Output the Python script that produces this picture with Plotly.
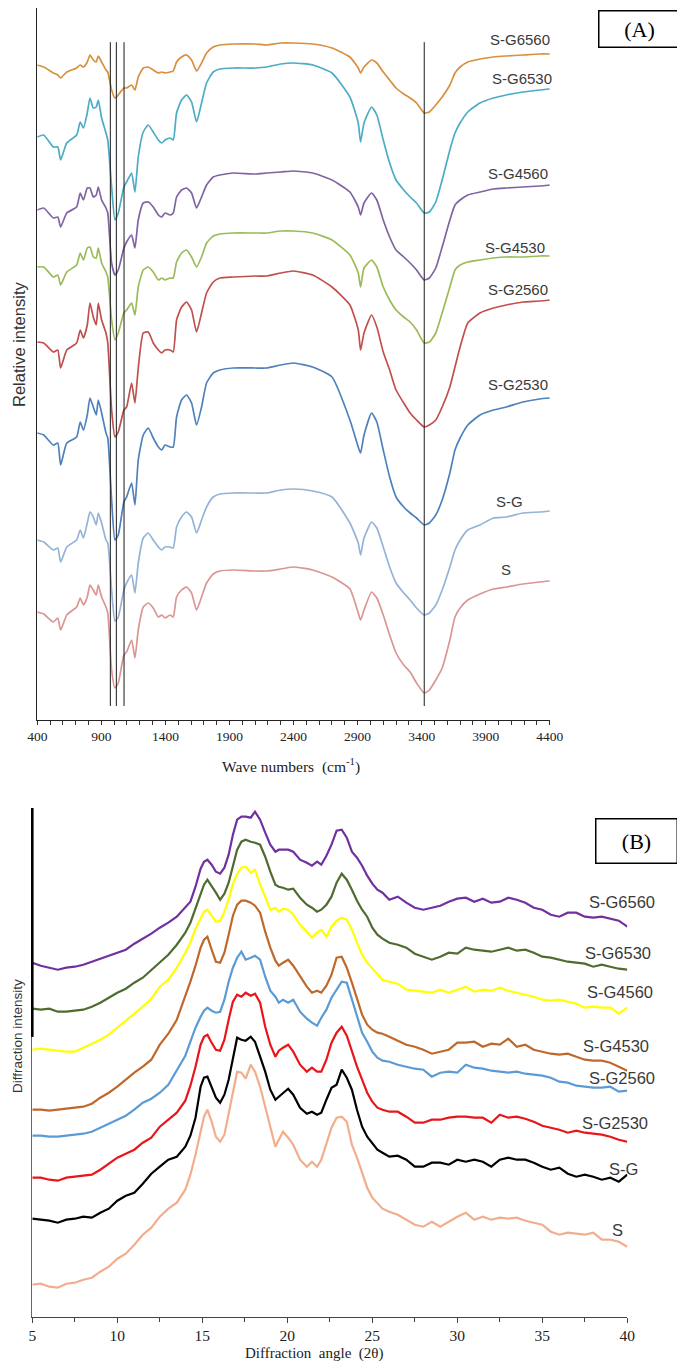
import plotly.graph_objects as go

# The page body has an 8px default margin, so the figure is drawn 8px in from the window corner.
OFF = 8
W, H = 685 - OFF, 1366 - OFF

# ---------------- Panel A: FTIR spectra (relative intensity, arbitrary units) ----------------
wavenumber = [400, 450, 525, 560, 582, 630, 707, 735, 760, 790, 811, 837, 860, 876, 902,
              936, 950, 980, 1006, 1032, 1076, 1097, 1136, 1162, 1188, 1227, 1266, 1305, 1345, 1371,
              1397, 1436, 1461, 1487, 1526, 1565, 1604, 1643, 1682, 1721, 1773, 1825, 1930, 2100, 2190,
              2300, 2400, 2550, 2700, 2840, 2905, 2923, 2950, 3009, 3050, 3100, 3150, 3200, 3260, 3310,
              3360, 3420, 3460, 3510, 3560, 3620, 3660, 3700, 3760, 3855, 3960, 4060, 4190, 4320, 4400]

ftir_SG6560 = [655, 653, 647, 645, 642, 648, 652, 655, 653, 658, 665, 660, 658, 664, 658,
               650, 648, 630, 622, 625, 632, 632, 635, 630, 643, 652, 653, 650, 647, 648,
               647, 648, 649, 658, 663, 665, 660, 649, 657, 667, 673, 675, 676, 676, 675,
               677, 677, 676, 672, 663, 652, 647, 653, 660, 657, 648, 640, 632, 626, 622,
               617, 607, 608, 615, 623, 635, 647, 653, 658, 661, 663, 664, 665, 666, 666]
ftir_SG6530 = [583, 585, 573, 573, 560, 577, 585, 598, 592, 607, 622, 612, 613, 620, 602,
               587, 580, 533, 500, 507, 533, 538, 547, 528, 563, 588, 595, 588, 580, 577,
               580, 582, 580, 607, 620, 625, 618, 598, 617, 637, 648, 651, 652, 652, 653,
               656, 657, 655, 647, 623, 597, 578, 597, 613, 605, 580, 557, 540, 530, 523,
               517, 507, 508, 518, 540, 570, 587, 597, 608, 617, 622, 625, 628, 630, 631]
ftir_SG4560 = [510, 512, 502, 503, 493, 507, 513, 527, 520, 532, 532, 523, 525, 533, 520,
               512, 507, 457, 445, 450, 472, 478, 485, 472, 500, 517, 518, 513, 505, 503,
               507, 505, 507, 523, 530, 532, 527, 512, 523, 535, 543, 545, 547, 546, 547,
               548, 549, 547, 540, 528, 513, 505, 517, 527, 520, 500, 483, 470, 463, 457,
               450, 440, 442, 452, 473, 500, 515, 520, 525, 528, 531, 532, 533, 534, 535]
ftir_SG4530 = [453, 453, 443, 445, 435, 448, 455, 467, 460, 472, 473, 463, 462, 472, 457,
               448, 443, 400, 380, 387, 407, 410, 417, 405, 433, 450, 453, 448, 440, 442,
               440, 442, 442, 458, 467, 470, 463, 453, 463, 477, 484, 486, 487, 487, 487,
               489, 489, 487, 480, 465, 447, 433, 452, 460, 453, 433, 420, 410, 403, 398,
               390, 377, 378, 387, 407, 433, 450, 455, 458, 460, 462, 463, 463, 464, 464]
ftir_SG2560 = [378, 377, 368, 370, 352, 370, 377, 390, 382, 395, 417, 403, 395, 417, 400,
               387, 377, 310, 283, 288, 310, 313, 337, 317, 352, 387, 388, 377, 370, 367,
               370, 370, 368, 400, 413, 418, 410, 388, 407, 427, 438, 442, 443, 444, 444,
               447, 449, 445, 433, 415, 390, 370, 387, 405, 393, 368, 350, 330, 317, 307,
               300, 293, 295, 300, 313, 333, 353, 373, 397, 407, 412, 415, 418, 419, 420]
ftir_SG2530 = [287, 285, 275, 277, 255, 277, 283, 298, 290, 305, 322, 313, 305, 320, 307,
               287, 282, 220, 180, 185, 218, 223, 237, 215, 260, 285, 292, 282, 273, 270,
               275, 273, 273, 303, 320, 325, 317, 295, 313, 337, 347, 350, 352, 352, 352,
               355, 357, 353, 343, 300, 273, 267, 285, 307, 298, 270, 243, 223, 213, 207,
               202, 195, 197, 205, 220, 247, 270, 282, 295, 305, 310, 313, 318, 321, 322]
ftir_SG = [180, 178, 170, 172, 158, 173, 180, 190, 182, 197, 208, 203, 195, 207, 197,
           180, 177, 130, 99, 103, 130, 137, 145, 127, 157, 182, 187, 180, 173, 170,
           173, 173, 172, 193, 203, 208, 203, 187, 200, 213, 223, 226, 227, 227, 227,
           230, 231, 229, 223, 197, 177, 165, 182, 198, 192, 173, 153, 137, 127, 120,
           112, 105, 107, 115, 130, 153, 170, 180, 190, 195, 202, 203, 207, 208, 209]
ftir_S = [108, 106, 98, 102, 90, 105, 113, 122, 115, 123, 135, 130, 125, 135, 123,
          113, 107, 50, 32, 37, 65, 68, 80, 62, 90, 113, 117, 112, 103, 105,
          102, 105, 103, 123, 130, 133, 127, 110, 123, 137, 146, 149, 150, 149, 149,
          151, 153, 150, 143, 131, 107, 100, 110, 128, 122, 105, 85, 67, 55, 48,
          37, 27, 30, 40, 52, 80, 103, 112, 120, 126, 131, 133, 136, 138, 139]

ftir_names = ["S-G6560", "S-G6530", "S-G4560", "S-G4530", "S-G2560", "S-G2530", "S-G", "S"]
ftir_series = [ftir_SG6560, ftir_SG6530, ftir_SG4560, ftir_SG4530, ftir_SG2560, ftir_SG2530, ftir_SG, ftir_S]
band_lines = [970, 1017, 1077, 3420]
ftir_ticks = [400, 900, 1400, 1900, 2400, 2900, 3400, 3900, 4400]

# ---------------- Panel B: XRD patterns (diffraction intensity, arbitrary units) ----------------
two_theta = [5, 5.5, 6, 6.5, 7, 7.5, 8, 8.5, 9, 9.5, 10, 10.5, 11, 11.5, 12, 12.5, 13, 13.5, 14,
             14.3, 14.6, 14.9, 15.1, 15.3, 15.55, 15.8, 16.05, 16.3, 16.55, 16.8, 17.05, 17.3, 17.55,
             17.85, 18.1, 18.4, 18.7, 19.0, 19.3, 19.5, 19.75, 20.05, 20.35, 20.75, 21.15, 21.45,
             21.75, 22.0, 22.3, 22.6, 22.9, 23.2, 23.5, 23.8, 24.1, 24.4, 24.7, 25.0, 25.3, 25.6,
             26, 26.5, 27, 27.5, 28, 28.5, 29, 29.5, 30, 30.5, 31, 31.5, 32, 32.5, 33, 33.5, 34,
             34.5, 35, 35.5, 36, 36.5, 37, 37.5, 38, 38.5, 39, 39.5, 40]

xrd_SG6560 = [354, 351, 349, 347, 349, 350, 352, 355, 358, 361, 364, 367, 373, 378, 383, 389, 394, 400, 409,
              415, 430, 448, 455, 457, 452, 445, 443, 449, 462, 482, 497, 500, 500, 499, 505, 497, 484,
              472, 465, 467, 467, 467, 465, 457, 454, 451, 455, 452, 461, 472, 486, 487, 479, 465, 459,
              451, 441, 433, 427, 424,
              417, 420, 414, 409, 407, 409, 411, 415, 418, 419, 415, 418, 414, 415, 419, 417, 414,
              409, 407, 402, 400, 404, 404, 400, 399, 400, 398, 396, 390]
xrd_SG6530 = [308, 307, 308, 305, 305, 306, 307, 310, 314, 319, 324, 328, 334, 339, 347, 354, 362, 372, 384,
              394, 408, 424, 432, 437, 431, 424, 417, 423, 434, 451, 467, 475, 477, 475, 474, 472, 460,
              445, 432, 430, 429, 427, 428, 419, 412, 409, 405, 407, 412, 420, 434, 443, 437, 427, 416,
              407, 400, 389, 382, 378,
              374, 372, 369, 363, 360, 357, 360, 364, 363, 369, 367, 366, 365, 367, 369, 366, 367,
              364, 360, 359, 357, 355, 354, 353, 350, 352, 350, 348, 347]
xrd_SG4560 = [267, 268, 267, 266, 265, 265, 269, 273, 277, 282, 289, 296, 303, 310, 318, 330, 337, 349, 364,
              374, 388, 399, 405, 407, 401, 395, 396, 405, 417, 433, 443, 449, 450, 444, 447, 432, 420,
              407, 409, 405, 408, 407, 402, 392, 385, 379, 384, 387, 380, 390, 396, 399, 397, 387, 374,
              362, 354, 348, 342, 337,
              335, 333, 327, 326, 325, 324, 327, 324, 327, 330, 325, 327, 326, 329, 326, 324, 322,
              320, 317, 316, 317, 315, 313, 309, 310, 309, 309, 303, 309]
xrd_SG4530 = [207, 207, 206, 207, 208, 209, 210, 213, 219, 224, 230, 237, 244, 250, 257, 272, 283, 297, 320,
              335, 351, 369, 377, 380, 367, 355, 354, 364, 382, 401, 412, 416, 416, 414, 411, 404, 385,
              369, 356, 351, 354, 357, 351, 340, 330, 324, 326, 324, 331, 342, 359, 360, 349, 334, 317,
              302, 292, 287, 284, 283,
              280, 276, 272, 270, 267, 263, 265, 267, 274, 274, 275, 270, 273, 272, 278, 270, 272,
              267, 265, 263, 262, 263, 260, 257, 256, 256, 254, 250, 246]
xrd_SG2560 = [181, 181, 180, 180, 181, 182, 183, 185, 189, 193, 197, 201, 207, 214, 218, 224, 232, 246, 261,
              275, 289, 300, 306, 309, 306, 304, 305, 317, 335, 349, 359, 365, 357, 359, 361, 357, 340,
              326, 320, 314, 317, 314, 317, 305, 298, 294, 291, 299, 307, 319, 327, 335, 334, 317, 302,
              284, 275, 265, 259, 256,
              255, 252, 250, 248, 247, 240, 244, 245, 244, 252, 249, 248, 246, 245, 244, 245, 243,
              242, 241, 239, 235, 234, 231, 230, 229, 229, 230, 225, 226]
xrd_SG2530 = [139, 139, 137, 136, 139, 140, 141, 142, 147, 153, 159, 163, 167, 174, 179, 190, 197, 204, 216,
              231, 250, 272, 280, 282, 274, 267, 266, 277, 297, 315, 322, 320, 324, 321, 323, 314, 290,
              272, 260, 266, 269, 272, 265, 252, 245, 249, 245, 245, 257, 274, 284, 290, 281, 265, 250,
              237, 224, 215, 209, 207,
              205, 205, 200, 194, 194, 197, 197, 199, 200, 200, 199, 199, 194, 202, 199, 200, 198,
              195, 191, 189, 187, 184, 186, 184, 183, 182, 180, 177, 175]
xrd_SG = [98, 97, 96, 94, 97, 98, 100, 99, 104, 108, 116, 121, 124, 133, 143, 150, 157, 160, 170,
          181, 199, 230, 239, 240, 230, 219, 214, 222, 237, 257, 279, 277, 276, 280, 275, 260, 245,
          227, 217, 220, 224, 228, 222, 209, 203, 205, 202, 204, 217, 229, 232, 247, 239, 227, 207,
          190, 180, 174, 167, 164,
          160, 161, 157, 150, 150, 154, 154, 152, 157, 155, 157, 155, 150, 157, 159, 157, 157,
          154, 150, 147, 149, 143, 140, 142, 140, 137, 139, 135, 142]
xrd_S = [32, 33, 30, 29, 33, 34, 37, 39, 45, 50, 58, 63, 72, 82, 89, 100, 108, 114, 127,
         142, 162, 185, 200, 207, 195, 180, 175, 182, 202, 225, 245, 244, 238, 252, 245, 230, 210,
         190, 170, 177, 185, 179, 172, 157, 150, 155, 150, 157, 174, 189, 199, 200, 195, 172, 159,
         144, 129, 119, 113, 108,
         105, 102, 97, 92, 90, 95, 90, 95, 100, 104, 97, 100, 97, 99, 98, 99, 96,
         94, 92, 85, 82, 84, 83, 82, 84, 77, 77, 75, 70]

xrd_names = ["S-G6560", "S-G6530", "S-G4560", "S-G4530", "S-G2560", "S-G2530", "S-G", "S"]
xrd_series = [xrd_SG6560, xrd_SG6530, xrd_SG4560, xrd_SG4530, xrd_SG2560, xrd_SG2530, xrd_SG, xrd_S]

for s in ftir_series:
    assert len(s) == len(wavenumber), len(s)
for s in xrd_series:
    assert len(s) == len(two_theta), len(s)

# ---------------- styles / layout helpers ----------------
ftir_colors = ["#D8903F", "#4BACC6", "#8064A2", "#9BBB59", "#C0504D", "#4F81BD", "#95B3D7", "#D99694"]
xrd_colors = ["#7030A0", "#4F6B2E", "#FFFF00", "#C0682B", "#5B9BD5", "#E8161B", "#000000", "#F2AE8C"]
ftir_label_pos = [(4170, 681), (4185, 642), (4154, 547), (4127, 473), (4154, 431), (4154, 336), (4084, 219), (4057, 151)]
xrd_label_pos = [(39.66, 415), (39.48, 364), (39.57, 325), (39.36, 271), (39.66, 239), (39.28, 194), (39.78, 148), (39.45, 87)]

SANS = "Liberation Sans, Arial, sans-serif"
SERIF = "Liberation Serif, Times New Roman, serif"


def fx(px):
    """window pixel x -> paper fraction"""
    return min(1.0, max(0.0, (px - OFF) / W))


def fy(py):
    """window pixel y -> paper fraction"""
    return min(1.0, max(0.0, 1 - (py - OFF) / H))


fig = go.Figure()

for name, ys, col in zip(ftir_names, ftir_series, ftir_colors):
    fig.add_trace(go.Scatter(x=wavenumber, y=ys, mode="lines", name=name,
                             line=dict(color=col, width=1.7, shape="spline", smoothing=0.5),
                             xaxis="x", yaxis="y", showlegend=False, hoverinfo="skip"))

for name, ys, col in zip(xrd_names, xrd_series, xrd_colors):
    fig.add_trace(go.Scatter(x=two_theta, y=ys, mode="lines", name=name,
                             line=dict(color=col, width=2.2),
                             xaxis="x2", yaxis="y2", showlegend=False, hoverinfo="skip"))

shapes = []
for wn in band_lines:
    shapes.append(dict(type="line", xref="x", yref="y domain", x0=wn, x1=wn,
                       y0=0.0197, y1=0.952, line=dict(color="#1a1a1a", width=1)))
# thick upper portion of the XRD intensity axis
shapes.append(dict(type="line", xref="x2 domain", yref="y2 domain", x0=0, x1=0,
                   y0=0.55, y1=1.0, line=dict(color="#000000", width=2.6)))

annotations = []
for name, (x, y) in zip(ftir_names, ftir_label_pos):
    annotations.append(dict(x=x, y=y, xref="x", yref="y", text=name, showarrow=False,
                            xanchor="center", yanchor="middle",
                            font=dict(family=SANS, size=15, color="#3a3a3a")))
for name, (x, y) in zip(xrd_names, xrd_label_pos):
    annotations.append(dict(x=x, y=y, xref="x2", yref="y2", text=name, showarrow=False,
                            xanchor="center", yanchor="middle",
                            font=dict(family=SANS, size=16.5, color="#3a3a3a")))


def paper_text(px, py, text, **kw):
    d = dict(x=fx(px), y=fy(py), xref="paper", yref="paper", text=text, showarrow=False,
             xanchor="center", yanchor="middle")
    d.update(kw)
    return d


annotations += [
    paper_text(19, 345, "Relative intensity", textangle=-90,
               font=dict(family=SANS, size=16.5, color="#333333")),
    paper_text(291, 765, "Wave numbers  (cm<sup>-1</sup>)",
               font=dict(family=SERIF, size=15.5, color="#222222")),
    paper_text(17, 1036, "Diffraction intensity", textangle=-90,
               font=dict(family=SANS, size=13.5, color="#333333")),
    paper_text(314, 1353, "Diffraction  angle  (2θ)",
               font=dict(family=SERIF, size=15, color="#222222")),
    paper_text(639, 29, "(A)", width=78, height=33, borderpad=1, bordercolor="#000000",
               borderwidth=1.5, font=dict(family=SERIF, size=22, color="#000000")),
    paper_text(636, 840.5, "(B)", width=78, height=41, borderpad=1, bordercolor="#000000",
               borderwidth=1.5, font=dict(family=SERIF, size=22, color="#000000")),
]

fig.update_layout(
    width=W, height=H,
    margin=dict(l=0, r=0, t=0, b=0, pad=0),
    paper_bgcolor="white", plot_bgcolor="white",
    showlegend=False,
    xaxis=dict(domain=[fx(37.3), fx(549.8)], range=[400, 4400], anchor="y",
               tickmode="array", tickvals=ftir_ticks, ticks="outside", ticklen=4, tickcolor="#333",
               minor=dict(dtick=100, tick0=400, ticks="outside", ticklen=4, tickcolor="#333"),
               showline=True, linecolor="#222", linewidth=1, showgrid=False, zeroline=False,
               tickfont=dict(family=SERIF, size=13.5, color="#222"), automargin=False),
    yaxis=dict(domain=[fy(720), fy(8)], range=[0, 712], anchor="x",
               showline=True, linecolor="#222", linewidth=1, showgrid=False, zeroline=False,
               showticklabels=False, ticks="", automargin=False),
    xaxis2=dict(domain=[fx(32.3), fx(627.3)], range=[5, 40], anchor="y2",
                tick0=5, dtick=5, ticks="outside", ticklen=5, tickcolor="#444",
                minor=dict(dtick=2.5, tick0=5, ticks="outside", ticklen=4, tickcolor="#444"),
                showline=True, linecolor="#444", linewidth=1.3, showgrid=False, zeroline=False,
                tickfont=dict(family=SERIF, size=15.5, color="#222"), automargin=False),
    yaxis2=dict(domain=[fy(1316.7), fy(808)], range=[0, 508.7], anchor="x2",
                showline=True, linecolor="#666", linewidth=1, showgrid=False, zeroline=False,
                showticklabels=False, ticks="", automargin=False),
    shapes=shapes,
    annotations=annotations,
)

fig.write_html("out.html")
